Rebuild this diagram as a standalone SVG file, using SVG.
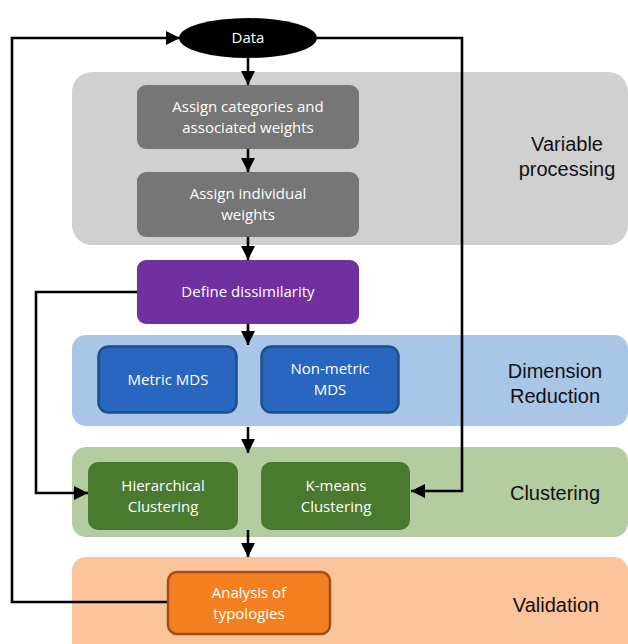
<svg xmlns="http://www.w3.org/2000/svg" width="628" height="644" viewBox="0 0 628 644">
<defs>
<marker id="ah" markerUnits="userSpaceOnUse" markerWidth="16" markerHeight="16" viewBox="0 0 16 16" refX="15" refY="8" orient="auto">
<path d="M1,1 L15,8 L1,15 Z" fill="#000"/>
</marker>
<style>
.lane{stroke:none}
.lt{font-family:"Liberation Sans",Arial,sans-serif;font-size:20px;fill:#111;text-anchor:middle}
.bt{font-family:"Open Sans","Liberation Sans",sans-serif;font-size:15px;fill:#fff;text-anchor:middle}
.con{fill:none;stroke:#000;stroke-width:2.6}
</style>
</defs>
<rect width="628" height="644" fill="#fff"/>
<g id="lanes">
<rect class="lane" x="72" y="72" width="556" height="173" rx="20" fill="#d0d0d0"/>
<rect class="lane" x="72" y="335" width="556" height="91" rx="14" fill="#a9c6e6"/>
<rect class="lane" x="72" y="447" width="556" height="90" rx="14" fill="#b3cda1"/>
<rect class="lane" x="72" y="557" width="556" height="100" rx="14" fill="#fcc49a"/>
<text class="lt" x="567" y="151">Variable</text>
<text class="lt" x="567" y="176">processing</text>
<text class="lt" x="555" y="378">Dimension</text>
<text class="lt" x="555" y="403">Reduction</text>
<text class="lt" x="555" y="500">Clustering</text>
<text class="lt" x="556" y="612">Validation</text>
</g>
<g id="connectors">
<line class="con" x1="248" y1="58" x2="248" y2="85" marker-end="url(#ah)"/>
<line class="con" x1="248" y1="149" x2="248" y2="172" marker-end="url(#ah)"/>
<line class="con" x1="248" y1="237" x2="248" y2="260" marker-end="url(#ah)"/>
<line class="con" x1="248" y1="323" x2="248" y2="345" marker-end="url(#ah)"/>
<line class="con" x1="248" y1="427" x2="248" y2="453" marker-end="url(#ah)"/>
<line class="con" x1="248" y1="530" x2="248" y2="557" marker-end="url(#ah)"/>
<polyline class="con" points="137,292 36,292 36,493 88,493" marker-end="url(#ah)"/>
<polyline class="con" points="317,38 462,38 462,491 411,491" marker-end="url(#ah)"/>
<polyline class="con" points="167,602 12,602 12,38 180,38" marker-end="url(#ah)"/>
</g>
<g id="data">
<ellipse cx="248" cy="38" rx="69" ry="20" fill="#000"/>
<text class="bt" x="248" y="43">Data</text>
</g>
<g id="assign-categories">
<rect x="137" y="85" width="222" height="64" rx="9" fill="#767676"/>
<text class="bt" x="248" y="112">Assign categories and</text>
<text class="bt" x="248" y="133">associated weights</text>
</g>
<g id="assign-individual">
<rect x="137" y="172" width="222" height="65" rx="9" fill="#767676"/>
<text class="bt" x="248" y="199">Assign individual</text>
<text class="bt" x="248" y="220">weights</text>
</g>
<g id="define-dissimilarity">
<rect x="137" y="260" width="222" height="64" rx="9" fill="#7030a0"/>
<text class="bt" x="248" y="297">Define dissimilarity</text>
</g>
<g id="metric-mds">
<rect x="98.5" y="346.5" width="138" height="66" rx="10" fill="#2866bf" stroke="#1f4e8a" stroke-width="2.5"/>
<text class="bt" x="168" y="385">Metric MDS</text>
</g>
<g id="nonmetric-mds">
<rect x="261.5" y="346.5" width="137" height="66" rx="10" fill="#2866bf" stroke="#1f4e8a" stroke-width="2.5"/>
<text class="bt" x="330" y="374">Non-metric</text>
<text class="bt" x="330" y="395">MDS</text>
</g>
<g id="hierarchical">
<rect x="88" y="462" width="150" height="68" rx="10" fill="#4a7a2f"/>
<text class="bt" x="163" y="491">Hierarchical</text>
<text class="bt" x="163" y="512">Clustering</text>
</g>
<g id="kmeans">
<rect x="261" y="462" width="149" height="68" rx="10" fill="#4a7a2f"/>
<text class="bt" x="336" y="491">K-means</text>
<text class="bt" x="336" y="512">Clustering</text>
</g>
<g id="analysis">
<rect x="168" y="572" width="162" height="62" rx="9" fill="#f47f20" stroke="#9c4f1a" stroke-width="2.5"/>
<text class="bt" x="249" y="598">Analysis of</text>
<text class="bt" x="249" y="619">typologies</text>
</g>
</svg>
